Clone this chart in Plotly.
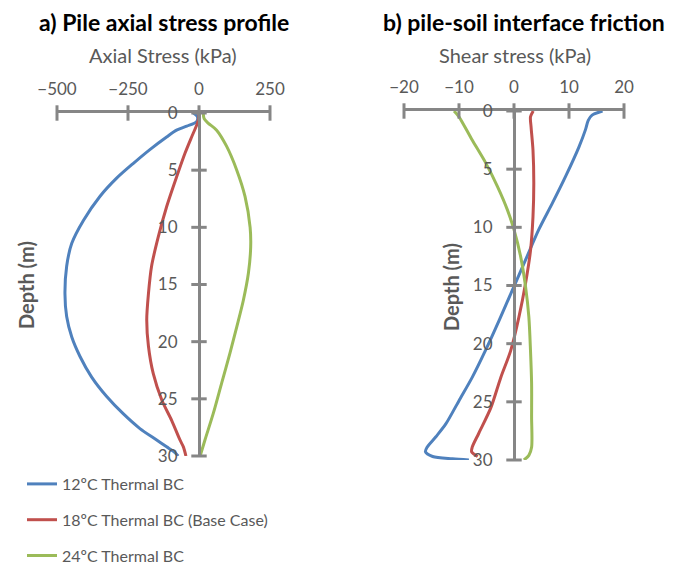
import plotly.graph_objects as go

# Series
series_names = ["12ºC Thermal BC", "18ºC Thermal BC (Base Case)", "24ºC Thermal BC"]
series_colors = ["#4F81BD", "#C0504D", "#9BBB59"]

# a) Pile axial stress profile (kPa vs depth in m)
depth_a_12 = [0, 0.3, 0.75, 1.15, 1.5, 2.1, 3.2, 4.4, 5.7, 7.3, 9.4, 11.4, 13.4, 15.8,
              17.8, 19.6, 21.3, 23.1, 24.8, 26.3, 27.6, 28.6, 29.2, 29.6, 30]
stress_a_12 = [-20, -6, -8, -43, -79, -114, -173, -231, -290, -349, -407, -448, -466, -472,
               -466, -448, -419, -378, -325, -267, -208, -149, -114, -90, -73]

depth_a_18 = [0, 0.6, 1.05, 2.1, 3.5, 5.6, 8.2, 10.8, 13.4, 15.8, 18.1, 20.4, 22.8, 25.1,
              26.9, 28.6, 29.2, 30]
stress_a_18 = [0, -2, -8, -26, -49, -79, -114, -143, -167, -178, -184, -178, -161, -131,
               -96, -67, -55, -46]

depth_a_24 = [0, 0.5, 0.9, 1.5, 2.9, 5.0, 7.3, 10.0, 11.7, 14.0, 16.4, 18.7, 21.0, 23.6,
              26.3, 28.6, 30]
stress_a_24 = [15, 18, 33, 62, 97, 133, 162, 180, 182, 174, 156, 133, 109, 80, 50, 21, 4]

# b) Pile-soil interface friction (shear stress kPa vs depth in m)
depth_b_12 = [0, 0.35, 0.8, 1.6, 3.1, 5.6, 7.9, 10.2, 12.8, 15.4, 18.0, 20.5, 22.9, 24.9,
              26.9, 28.0, 28.9, 29.3, 29.7, 29.9, 30]
shear_b_12 = [16.1, 14.2, 13.5, 13.0, 11.8, 9.4, 7.0, 4.5, 2.1, -0.3, -2.7, -5.1, -7.6, -10.0,
              -12.4, -14.2, -15.8, -16.1, -14.8, -11.2, -8.2]

depth_b_18 = [0, 0.5, 1.35, 3.35, 6.2, 9.1, 12.0, 14.8, 17.7, 20.6, 22.9, 25.5, 27.7, 28.9,
              29.3, 29.7]
shear_b_18 = [3.5, 3.0, 3.1, 3.45, 3.6, 3.45, 3.0, 2.1, 0.9, -0.6, -2.4, -4.2, -6.4, -7.6,
              -7.7, -6.6]

depth_b_24 = [0, 0.5, 2.5, 4.5, 6.5, 8.5, 10.2, 12.5, 15.1, 17.7, 20.6, 23.4, 26.3, 28.9,
              29.6, 30]
shear_b_24 = [-10.9, -10.0, -7.6, -5.1, -3.0, -1.2, 0, 1.2, 2.1, 2.7, 3.0, 3.2, 3.2, 3.2,
              2.7, 1.8]

# Tick values
stress_ticks = [-500, -250, 0, 250]
shear_ticks = [-20, -10, 0, 10, 20]
depth_ticks = [0, 5, 10, 15, 20, 25, 30]

W, H = 678, 564
AXIS_GREY = "#868686"
TEXT_GREY = "#595959"
FONT = "Lato"


def px_x(p):
    return p / W


def px_y(p):
    return 1 - p / H


fig = go.Figure()

panel_a = [(depth_a_12, stress_a_12), (depth_a_18, stress_a_18), (depth_a_24, stress_a_24)]
panel_b = [(depth_b_12, shear_b_12), (depth_b_18, shear_b_18), (depth_b_24, shear_b_24)]

for i, (d, v) in enumerate(panel_a):
    fig.add_trace(go.Scatter(
        x=v, y=d, mode="lines", name=series_names[i], legendgroup=series_names[i],
        line=dict(color=series_colors[i], width=3, shape="spline", smoothing=0.8),
        xaxis="x", yaxis="y",
    ))
for i, (d, v) in enumerate(panel_b):
    fig.add_trace(go.Scatter(
        x=v, y=d, mode="lines", name=series_names[i], legendgroup=series_names[i],
        showlegend=False,
        line=dict(color=series_colors[i], width=3, shape="spline", smoothing=0.8),
        xaxis="x2", yaxis="y2",
    ))

# Crossing tick marks on both axes of each panel
for xa, ya, xt in [("x", "y", stress_ticks), ("x2", "y2", shear_ticks)]:
    fig.add_trace(go.Scatter(
        x=xt, y=[0] * len(xt), mode="markers", showlegend=False, hoverinfo="skip",
        cliponaxis=False, xaxis=xa, yaxis=ya,
        marker=dict(symbol="line-ns-open", size=11, color=AXIS_GREY,
                    line=dict(color=AXIS_GREY, width=3)),
    ))
    fig.add_trace(go.Scatter(
        x=[0] * len(depth_ticks), y=depth_ticks, mode="markers", showlegend=False,
        hoverinfo="skip", cliponaxis=False, xaxis=xa, yaxis=ya,
        marker=dict(symbol="line-ew-open", size=11, color=AXIS_GREY,
                    line=dict(color=AXIS_GREY, width=3)),
    ))

common_x = dict(side="top", showline=True, linecolor=AXIS_GREY, linewidth=3, ticks="",
                showgrid=False, zeroline=False, ticklabelstandoff=8,
                tickfont=dict(size=17, color=TEXT_GREY, family=FONT), fixedrange=True)
common_y = dict(range=[30, 0], anchor="free", showline=True, linecolor=AXIS_GREY,
                linewidth=3, ticks="", showgrid=False, zeroline=False,
                tickvals=depth_ticks, ticklabelstandoff=17,
                tickfont=dict(size=17, color=TEXT_GREY, family=FONT), fixedrange=True)

fig.update_layout(
    width=W, height=H, margin=dict(l=0, r=0, t=0, b=0, autoexpand=False),
    plot_bgcolor="white", paper_bgcolor="white",
    font=dict(family=FONT, color=TEXT_GREY),
    xaxis=dict(domain=[px_x(57), px_x(270)], range=[-500, 250], tickvals=stress_ticks,
               anchor="y", **common_x),
    yaxis=dict(domain=[px_y(456), px_y(113)], position=px_x(199), **common_y),
    xaxis2=dict(domain=[px_x(404), px_x(624)], range=[-20, 20], tickvals=shear_ticks,
                anchor="y2", **common_x),
    yaxis2=dict(domain=[px_y(460), px_y(111)], position=px_x(514), **common_y),
    legend=dict(x=px_x(22), y=px_y(467), xanchor="left", yanchor="top",
                font=dict(size=16, color=TEXT_GREY, family=FONT),
                tracegroupgap=12, bgcolor="rgba(0,0,0,0)"),
    showlegend=True,
)

annotations = [
    dict(text="<b>a) Pile axial stress profile</b>", x=px_x(164), y=px_y(22),
         font=dict(size=23, color="black")),
    dict(text="Axial Stress (kPa)", x=px_x(163), y=px_y(55),
         font=dict(size=20, color=TEXT_GREY)),
    dict(text="<b>b) pile-soil interface friction</b>", x=px_x(524), y=px_y(22),
         font=dict(size=23, color="black")),
    dict(text="Shear stress (kPa)", x=px_x(515), y=px_y(55),
         font=dict(size=20, color=TEXT_GREY)),
    dict(text="<b>Depth (m)</b>", x=px_x(26), y=px_y(285), textangle=-90,
         font=dict(size=20, color=TEXT_GREY)),
    dict(text="<b>Depth (m)</b>", x=px_x(451), y=px_y(287), textangle=-90,
         font=dict(size=20, color=TEXT_GREY)),
]
for a in annotations:
    a.update(xref="paper", yref="paper", showarrow=False, xanchor="center", yanchor="middle")
    a["font"]["family"] = FONT
fig.update_layout(annotations=annotations)

fig.write_html("out.html")
